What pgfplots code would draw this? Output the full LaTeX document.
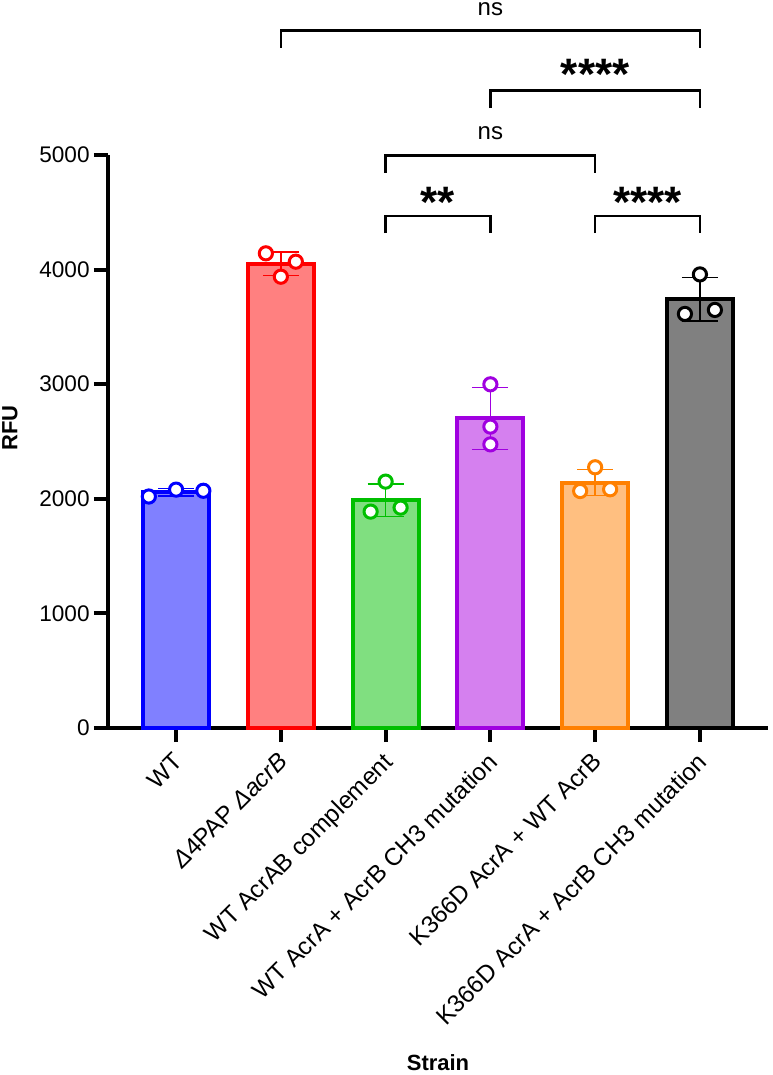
\documentclass[border=0pt]{standalone}
\usepackage{fontspec}
\setmainfont{Liberation Sans}
\usepackage{pgfplots}
\pgfplotsset{compat=1.18}
\definecolor{blueO}{HTML}{0000FF}\definecolor{blueF}{HTML}{8080FF}
\definecolor{redO}{HTML}{FF0000}\definecolor{redF}{HTML}{FF8080}
\definecolor{greenO}{HTML}{00BF00}\definecolor{greenF}{HTML}{80DF80}
\definecolor{purpO}{HTML}{A000E0}\definecolor{purpF}{HTML}{D580EF}
\definecolor{orangeO}{HTML}{FF8000}\definecolor{orangeF}{HTML}{FFBF80}
\definecolor{blackO}{HTML}{000000}\definecolor{blackF}{HTML}{808080}
\pgfplotsset{
  barsty/.style n args={2}{ybar, bar width=0.63, bar shift=0pt, draw=#1, fill=#2, line width=2pt,
    error bars/.cd, y dir=both, y explicit,
    error bar style={line width=0.75pt, draw=#1},
    error mark options={rotate=90, mark size=9pt, line width=0.75pt, draw=#1}},
  ptsty/.style={only marks, mark=*, mark size=3.3pt, mark options={fill=white, draw=#1, line width=1.5pt}},
}
\begin{document}
\fontsize{11pt}{13pt}\selectfont
\begin{tikzpicture}
\useasboundingbox (-54pt,-173.5pt) rectangle (332pt,364pt);
\begin{axis}[
  at={(0,0)}, anchor=south west,
  scale only axis, width=330pt, height=286.5pt,
  xmin=-0.65, xmax=5.65, ymin=0, ymax=5000,
  axis lines=left, axis line style={-, line width=2pt},
  xtick={0,1,2,3,4,5},
  xticklabels={WT, \textit{Δ}4PAP \textit{ΔacrB}, WT AcrAB complement, WT AcrA + AcrB CH3 mutation, K366D AcrA + WT AcrB, K366D AcrA + AcrB CH3 mutation},
  ytick={0,1000,2000,3000,4000,5000},
  yticklabels={0,1000,2000,3000,4000,5000},
  tick align=outside, major tick length=7pt,
  tick style={line width=2pt, black},
  xticklabel style={font=\fontsize{12.2pt}{14pt}\selectfont, xshift=-2pt, yshift=-3pt, rotate=45, anchor=north east, inner sep=1pt},
  yticklabel style={font=\fontsize{11.3pt}{13pt}\selectfont, inner sep=2pt},
  ylabel={\bfseries RFU},
  ylabel style={at={(axis description cs:-0.1485,0.5236)}, anchor=center},
  xlabel={\bfseries Strain},
  xlabel style={at={(axis description cs:0.5,-0.5846)}, anchor=center},
  clip=false,
]
\addplot[barsty={blueO}{blueF}] coordinates {(0,2057) +- (0,32)};
\addplot[ptsty=blueO] coordinates {(-0.26,2020) (0,2080) (0.26,2070)};
\addplot[barsty={redO}{redF}] coordinates {(1,4050) +- (0,103)};
\addplot[ptsty=redO] coordinates {(0.857,4142) (1.143,4069) (1,3938)};
\addplot[barsty={greenO}{greenF}] coordinates {(2,1987) +- (0,142)};
\addplot[ptsty=greenO] coordinates {(2,2150) (1.857,1888) (2.143,1923)};
\addplot[barsty={purpO}{purpF}] coordinates {(3,2701) +- (0,269)};
\addplot[ptsty=purpO] coordinates {(3,2999) (3,2630) (3,2475)};
\addplot[barsty={orangeO}{orangeF}] coordinates {(4,2142) +- (0,115)};
\addplot[ptsty=orangeO] coordinates {(4,2275) (3.857,2068) (4.143,2083)};
\addplot[barsty={blackO}{blackF}] coordinates {(5,3740) +- (0,190)};
\addplot[ptsty=blackO] coordinates {(5,3958) (4.857,3613) (5.143,3648)};
% significance brackets
\draw[line width=1.25pt] (axis cs:1,5934) -- (axis cs:1,6085) -- (axis cs:5,6085) -- (axis cs:5,5934);
\node[font=\fontsize{12pt}{14pt}\selectfont] at (axis cs:3,6270) {ns};
\draw[line width=1.25pt] (axis cs:3,5410) -- (axis cs:3,5561) -- (axis cs:5,5561) -- (axis cs:5,5410);
\node[font=\fontsize{22pt}{24pt}\selectfont\bfseries] at (axis cs:4,5700) {****};
\draw[line width=1.25pt] (axis cs:2,4843) -- (axis cs:2,4994) -- (axis cs:4,4994) -- (axis cs:4,4843);
\node[font=\fontsize{12pt}{14pt}\selectfont] at (axis cs:3,5192) {ns};
\draw[line width=1.25pt] (axis cs:2,4319) -- (axis cs:2,4468) -- (axis cs:3,4468) -- (axis cs:3,4319);
\node[font=\fontsize{22pt}{24pt}\selectfont\bfseries] at (axis cs:2.5,4590) {**};
\draw[line width=1.25pt] (axis cs:4,4319) -- (axis cs:4,4468) -- (axis cs:5,4468) -- (axis cs:5,4319);
\node[font=\fontsize{22pt}{24pt}\selectfont\bfseries] at (axis cs:4.5,4590) {****};
\end{axis}
\end{tikzpicture}
\end{document}
